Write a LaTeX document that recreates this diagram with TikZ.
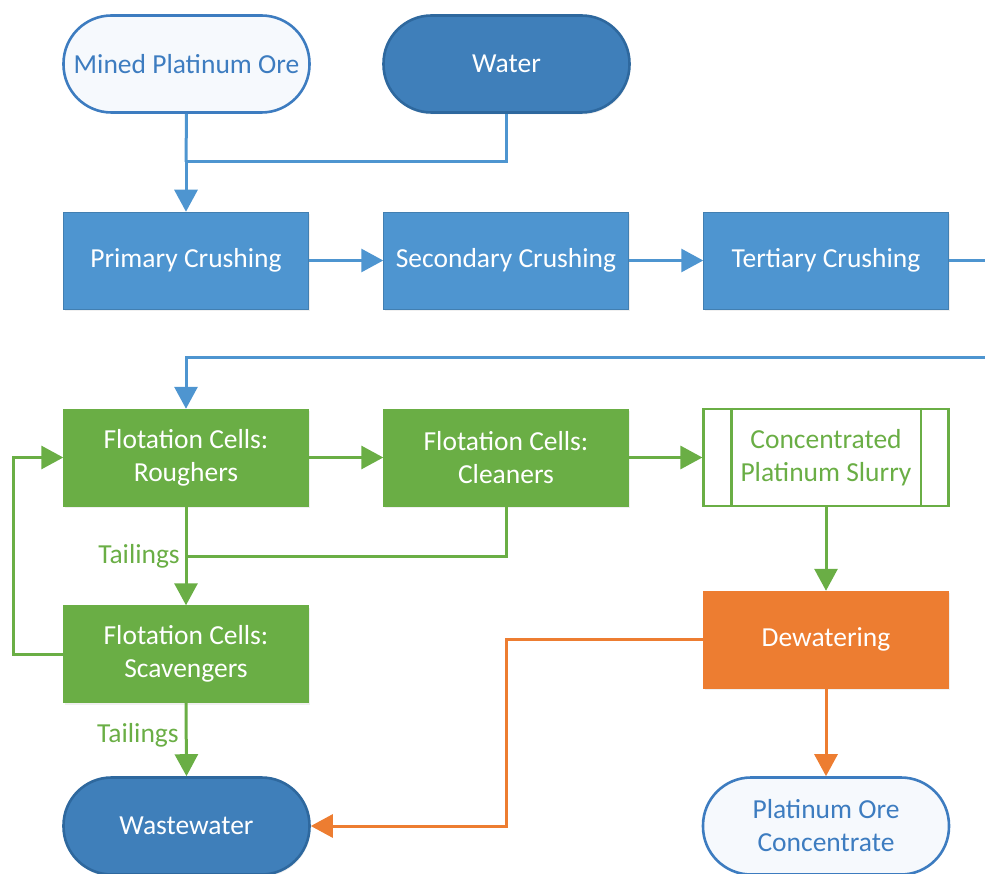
\documentclass[tikz,border=0pt]{standalone}
\usepackage{fontspec}
\setmainfont{Carlito}
\usetikzlibrary{arrows.meta,calc,shadows}
\definecolor{lblue}{RGB}{78,149,208}
\definecolor{dblue}{RGB}{63,127,186}
\definecolor{dblueline}{RGB}{46,104,158}
\definecolor{tblue}{RGB}{61,124,192}
\definecolor{paleblue}{RGB}{246,249,253}
\definecolor{pgreen}{RGB}{106,174,69}
\definecolor{porange}{RGB}{237,125,49}
\tikzset{
  x=1pt,y=-1pt,
  every node/.style={font=\fontsize{27.5}{33}\selectfont, align=center, inner sep=0pt},
  shadowed/.style={drop shadow={opacity=0.12,shadow xshift=1pt,shadow yshift=-2pt}},
  procbox/.style={rectangle, minimum width=245pt, minimum height=97pt, shadowed},
  bluebox/.style={procbox, fill=lblue, draw=lblue!85!black, line width=0.5pt, text=white},
  greenbox/.style={procbox, fill=pgreen, draw=pgreen, text=white},
  orangebox/.style={procbox, fill=porange, draw=porange, text=white},
  terminal/.style={rectangle, rounded corners=48pt, minimum width=246pt, minimum height=97pt, line width=2.6pt},
  lightterm/.style={terminal, draw=tblue, fill=paleblue, text=tblue},
  darkterm/.style={terminal, draw=dblueline, fill=dblue, text=white, shadowed},
  flow/.style={line width=3pt},
  tip/.style={-{Triangle[length=22pt,width=23pt]}},
  bflow/.style={flow, draw=lblue, color=lblue},
  gflow/.style={flow, draw=pgreen, color=pgreen},
  oflow/.style={flow, draw=porange, color=porange},
  lbl/.style={text=pgreen, anchor=east}
}
\begin{document}
\begin{tikzpicture}
\useasboundingbox (0,0) rectangle (985,874);
\clip (0,0) rectangle (985,874);

% inputs
\node[lightterm] (ore) at (186.5,64) {Mined Platinum Ore};
\node[darkterm] (water) at (506.5,64) {Water};

% crushing line
\node[bluebox] (prim) at (186,260.5) {Primary Crushing};
\node[bluebox] (sec) at (506,260.5) {Secondary Crushing};
\node[bluebox] (ter) at (826,260.5) {Tertiary Crushing};

% flotation circuit
\node[greenbox] (rough) at (186,457.5) {Flotation Cells:\\Roughers};
\node[greenbox] (clean) at (506,457.5) {Flotation Cells:\\Cleaners};
\node[rectangle, minimum width=245pt, minimum height=97pt, draw=pgreen, line width=2.2pt, fill=white, text=pgreen]
  (slurry) at (826,457.5) {Concentrated\\Platinum Slurry};
\draw[pgreen, line width=2.2pt] ($(slurry.north west)+(29,0)$) -- ($(slurry.south west)+(29,0)$)
  ($(slurry.north east)+(-29,0)$) -- ($(slurry.south east)+(-29,0)$);
\node[greenbox] (scav) at (186,654) {Flotation Cells:\\Scavengers};

% dewatering and outputs
\node[orangebox] (dew) at (826,639.5) {Dewatering};
\node[darkterm] (waste) at (186.5,826) {Wastewater};
\node[lightterm] (conc) at (826,826) {Platinum Ore\\Concentrate};

% junction and off-page points
\coordinate (jtop) at (186,162);
\coordinate (jtail) at (186,556);
\coordinate (edgeR) at (990,260.5);
\coordinate (edgeR2) at (990,358);

% feed to primary crusher
\draw[bflow] (ore.south) -- (jtop);
\draw[bflow] (water.south) |- (jtop);
\draw[bflow, tip] (jtop) -- (prim.north);

% crushing chain
\draw[bflow, tip] (prim.east) -- (sec.west);
\draw[bflow, tip] (sec.east) -- (ter.west);
\draw[bflow] (ter.east) -- (edgeR);
\draw[bflow, tip] (edgeR2) -| (rough.north);

% flotation flows
\draw[gflow, tip] (rough.east) -- (clean.west);
\draw[gflow, tip] (clean.east) -- (slurry.west);
\draw[gflow, tip] (rough.south) -- (scav.north);
\draw[gflow] (clean.south) |- (jtail);
\node[lbl] at ($(jtail)+(-6,0)$) {Tailings};
\draw[gflow, tip] (scav.west) -- ++(-50,0) |- (rough.west);
\draw[gflow, tip] (scav.south) -- node[lbl, pos=0.45, xshift=-6pt] {Tailings} (waste.north);
\draw[gflow, tip] (slurry.south) -- (dew.north);

% dewatering outputs
\draw[oflow, tip] (dew.west) -- (506,639.5) |- (waste.east);
\draw[oflow, tip] (dew.south) -- (conc.north);
\end{tikzpicture}
\end{document}
